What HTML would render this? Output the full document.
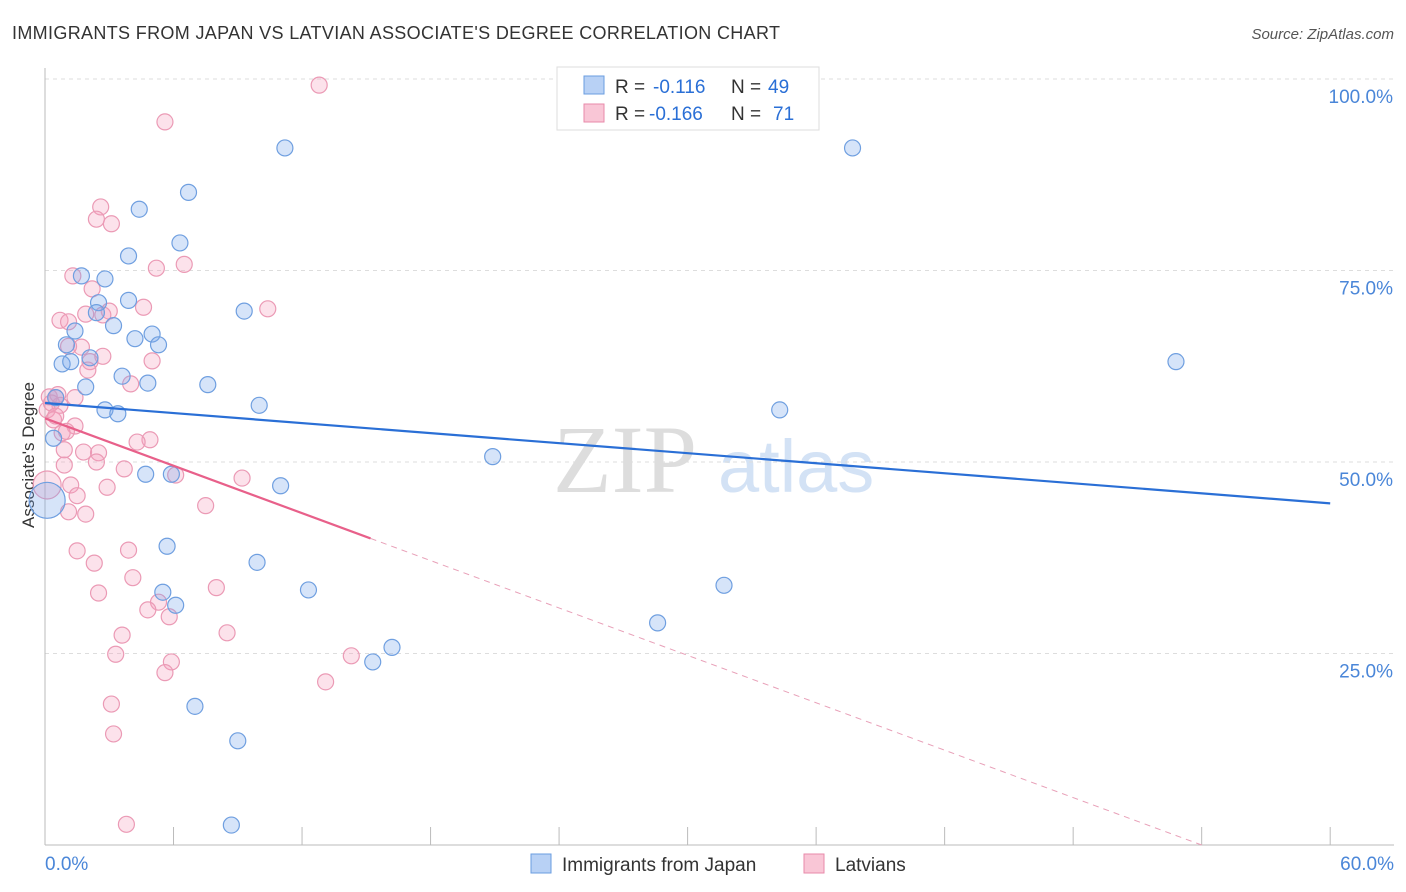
<!DOCTYPE html>
<html><head><meta charset="utf-8"><style>
body{margin:0;background:#fff;font-family:"Liberation Sans",sans-serif}
svg{display:block}
</style></head><body>
<svg id="c" width="1406" height="892" xmlns="http://www.w3.org/2000/svg">
<text x="12" y="39" font-size="18" fill="#333" textLength="768">IMMIGRANTS FROM JAPAN VS LATVIAN ASSOCIATE'S DEGREE CORRELATION CHART</text>
<text x="1394" y="39" font-size="15" fill="#555" font-style="italic" text-anchor="end">Source: ZipAtlas.com</text>
<text transform="translate(34,455) rotate(-90)" font-size="17" fill="#333" text-anchor="middle">Associate's Degree</text>
<g><text x="553" y="492" font-size="96" fill="#ddd" font-family="Liberation Serif,serif">ZIP</text><text x="718" y="492" font-size="74" fill="#d3e2f5">atlas</text></g>
<g id="grid"></g><g id="marks"></g>
<g>
<rect x="557" y="67" width="262" height="63" fill="#fff" stroke="#ddd"/>
<rect x="584" y="76" width="20" height="18" fill="#b8d1f5" stroke="#6a9de0"/>
<rect x="584" y="104" width="20" height="18" fill="#f9c6d6" stroke="#e88aaa"/>
<text x="615" y="93" font-size="19" fill="#333">R =</text>
<text x="653" y="93" font-size="19" fill="#2a6fd6">-0.116</text>
<text x="731" y="93" font-size="19" fill="#333">N =</text>
<text x="768" y="93" font-size="19" fill="#2a6fd6">49</text>
<text x="615" y="120" font-size="19" fill="#333">R =</text>
<text x="649" y="120" font-size="19" fill="#2a6fd6">-0.166</text>
<text x="731" y="120" font-size="19" fill="#333">N =</text>
<text x="773" y="120" font-size="19" fill="#2a6fd6">71</text>
</g>
<g>
<rect x="531" y="854" width="20" height="19" fill="#b8d1f5" stroke="#6a9de0"/>
<text x="562" y="871" font-size="19" fill="#333">Immigrants from Japan</text>
<rect x="804" y="854" width="20" height="19" fill="#f9c6d6" stroke="#e88aaa"/>
<text x="835" y="871" font-size="19" fill="#333">Latvians</text>
</g>
</svg>
<script>
const blueX=[11.2,37.7,6.7,4.4,6.3,3.9,1.7,2.8,3.9,2.5,9.3,2.4,3.2,1.4,5.0,4.2,5.3,1.0,0.8,1.2,2.1,52.8,3.6,4.8,7.6,1.9,0.5,10.0,2.8,3.4,34.3,0.4,20.9,4.7,5.9,11.0,0.1,5.7,9.9,12.3,31.7,5.5,6.1,28.6,16.2,15.3,7.0,9.0,8.7];
const blueY=[91.0,91.0,85.2,83.0,78.6,76.9,74.3,73.9,71.1,70.8,69.7,69.5,67.8,67.1,66.7,66.1,65.3,65.3,62.8,63.1,63.6,63.1,61.2,60.3,60.1,59.8,58.4,57.4,56.8,56.3,56.8,53.1,50.7,48.4,48.4,46.9,45.0,39.0,36.9,33.3,33.9,33.0,31.3,29.0,25.8,23.9,18.1,13.6,2.6];
const pinkX=[12.8,5.6,2.6,2.4,3.1,5.2,6.5,1.3,2.2,4.6,10.4,1.9,3.0,0.7,1.1,2.7,1.7,1.1,5.0,2.7,2.1,2.0,4.0,0.2,0.5,0.7,1.4,0.1,0.4,1.4,0.8,4.9,4.3,0.9,1.8,2.5,0.9,3.7,6.1,9.2,2.9,1.2,1.5,7.5,1.1,1.9,0.1,1.5,3.9,2.3,4.1,8.0,2.5,5.3,4.8,5.8,3.6,8.5,3.3,5.9,5.6,14.3,13.1,3.1,3.2,3.8,0.3,0.6,1.0,0.5,2.4];
const pinkY=[99.2,94.4,83.3,81.7,81.1,75.3,75.8,74.3,72.6,70.2,70.0,69.3,69.7,68.5,68.3,69.2,65.0,65.1,63.2,63.8,63.1,62.0,60.2,58.5,58.4,57.4,58.4,56.8,55.5,54.7,53.8,52.9,52.6,51.6,51.3,51.2,49.6,49.1,48.3,47.9,46.7,47.0,45.6,44.3,43.5,43.2,47.0,38.4,38.5,36.8,34.9,33.6,32.9,31.7,30.7,29.8,27.4,27.7,24.9,23.9,22.5,24.7,21.3,18.4,14.5,2.7,57.7,58.8,54.0,56.0,50.0];
const blueBig=36, pinkBig=46;
const yTicks=[25,50,75,100];
const xTicks=[0,6,12,18,24,30,36,42,48,54,60];
const blueTrend=[57.7,44.6];
const pinkTrend=[55.7,0,54];
const X=v=>45+v*21.42, Y=v=>845-v*7.66;
const NS="http://www.w3.org/2000/svg";
function mk(t,a,p){const e=document.createElementNS(NS,t);for(const k in a)e.setAttribute(k,a[k]);p.appendChild(e);return e;}
const g=document.getElementById('grid'), m=document.getElementById('marks');
yTicks.forEach(t=>{
 const l=mk('line',{x1:45,x2:1394,y1:Y(t),y2:Y(t),stroke:'#ddd','stroke-dasharray':'4,4'},g);
 
 
 const tx=mk('text',{x:1393,y:Y(t)+24,'font-size':19,fill:'#4a86d8','text-anchor':'end'},g);tx.textContent=t.toFixed(1)+'%';
 
 
});
mk('line',{x1:45,x2:45,y1:68,y2:845,stroke:'#bbb'},g);
mk('line',{x1:45,x2:1394,y1:845,y2:845,stroke:'#bbb'},g);
xTicks.forEach(t=>{const l=mk('line',{x1:X(t),x2:X(t),y1:827,y2:845,stroke:'#bbb'},g);
 
 });
const a=mk('text',{x:45,y:870,'font-size':19,fill:'#4a86d8'},g);a.textContent='0.0%';


const b=mk('text',{x:1394,y:870,'font-size':19,fill:'#4a86d8','text-anchor':'end'},g);b.textContent='60.0%';


pinkX.forEach((x,i)=>{const c=mk('circle',{cx:X(x),cy:Y(pinkY[i]),r:i===pinkBig?14:8,fill:'rgba(244,160,190,0.3)',stroke:'#eb9ab5','stroke-width':1.2},m);
 
 });
blueX.forEach((x,i)=>{const c=mk('circle',{cx:X(x),cy:Y(blueY[i]),r:i===blueBig?18:8,fill:'rgba(120,165,235,0.3)',stroke:'#6f9fe0','stroke-width':1.2},m);
 
 });
const bl=mk('line',{x1:X(0),y1:Y(blueTrend[0]),x2:X(60),y2:Y(blueTrend[1]),stroke:'#2a6fd6','stroke-width':2.2},m);


const pv=x=>pinkTrend[0]+(pinkTrend[1]-pinkTrend[0])*x/pinkTrend[2];
const ps=mk('line',{x1:X(0),y1:Y(pv(0)),x2:X(15.2),y2:Y(pv(15.2)),stroke:'#e8608a','stroke-width':2.2},m);


const pd=mk('line',{x1:X(15.2),y1:Y(pv(15.2)),x2:X(pinkTrend[2]),y2:Y(0),stroke:'#e8a0b8','stroke-width':1,'stroke-dasharray':'6,5'},m);


</script>
</body></html>
